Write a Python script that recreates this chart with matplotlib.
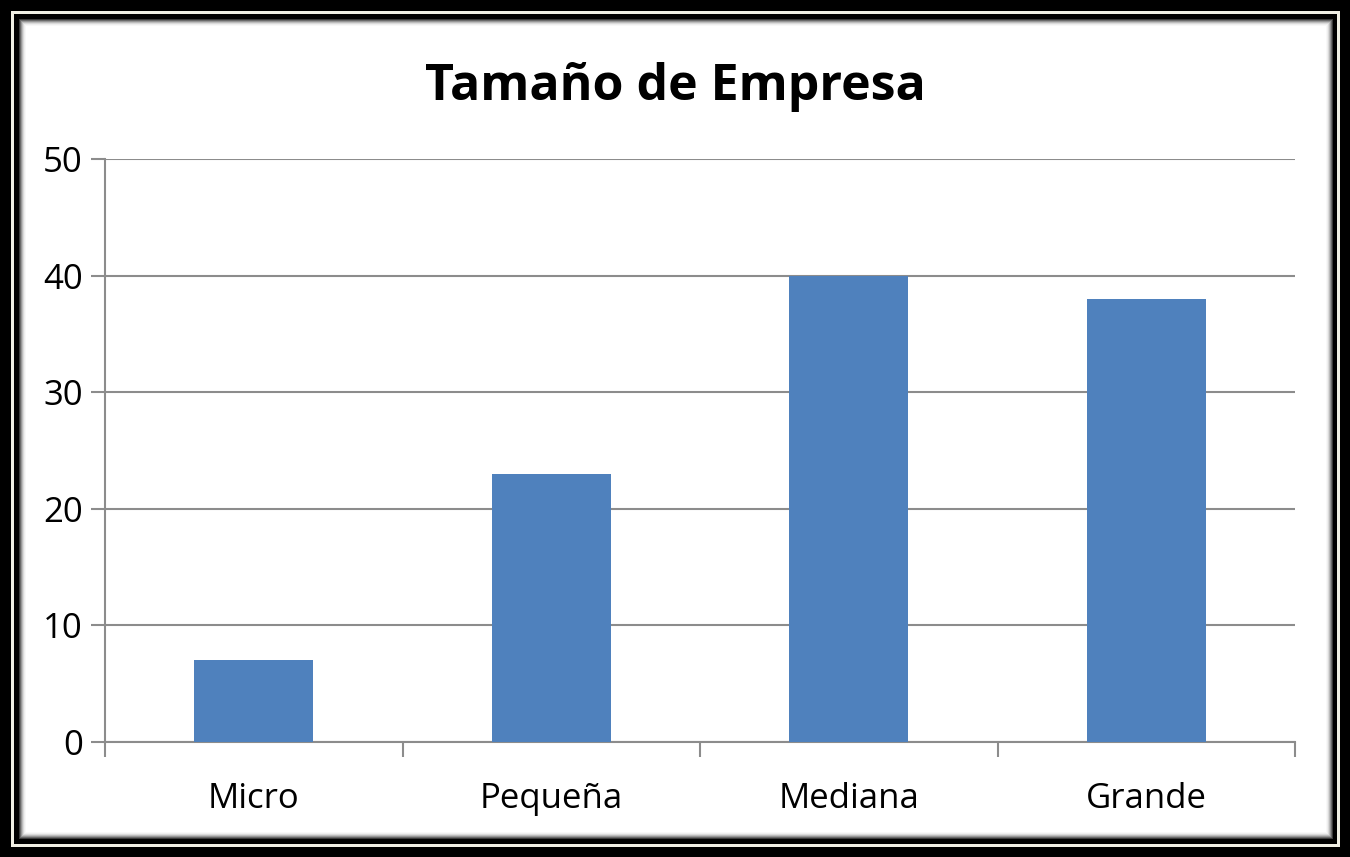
import matplotlib
matplotlib.use('Agg')
import matplotlib.pyplot as plt
from matplotlib.patches import Rectangle
import numpy as np

categorias = ['Micro', 'Pequeña', 'Mediana', 'Grande']
valores = [7, 23, 40, 38]
yticks = [0, 10, 20, 30, 40, 50]

W, H = 1350, 857
fig = plt.figure(figsize=(W / 100, H / 100), dpi=100, facecolor='black')


def px_rect(x0, y0, x1, y1, color, z=0):
    # rectangle in pixel coords (origin top-left)
    fig.patches.append(Rectangle((x0 / W, 1 - y1 / H), (x1 - x0) / W, (y1 - y0) / H,
                                 transform=fig.transFigure, facecolor=color,
                                 edgecolor='none', zorder=z))


# frame: cream line, black band, soft gray shadow into white
px_rect(11, 11, 1340, 847, '#f0efe4', 0)
px_rect(14, 14, 1337, 844, 'black', 1)
shades = ['#3a3a3a', '#6a6a6a', '#969696', '#bcbcbc', '#dadada', '#eeeeee', '#f8f8f8', 'white']
for i, c in enumerate(shades):
    px_rect(19 + i, 19 + i, 1333 - i, 839 - i, c, 2 + i)

ax = fig.add_axes([105 / W, 1 - 742 / H, (1295 - 105) / W, (742 - 159) / H])
ax.set_facecolor('none')
ax.set_zorder(20)

x = np.arange(len(categorias))
ax.bar(x, valores, width=0.4, color='#4f81bd', zorder=3)
ax.set_xlim(-0.5, len(categorias) - 0.5)
ax.set_ylim(0, 50)
ax.set_yticks(yticks)
ax.yaxis.grid(True, color='#8c8c8c', linewidth=1.5, zorder=0)

ax.set_xticks(x)
ax.set_xticklabels(categorias, fontsize=25, family='Open Sans')
ax.set_xticks(np.arange(-0.5, len(categorias)), minor=True)
ax.tick_params(axis='x', which='major', length=0, pad=29)
ax.tick_params(axis='x', which='minor', length=11, width=1.5, color='#8c8c8c')
ax.tick_params(axis='y', length=10, width=1.5, color='#8c8c8c', pad=6)
ax.set_yticklabels([str(v) for v in yticks], fontsize=25, family='Open Sans')

for s in ['top', 'right']:
    ax.spines[s].set_visible(False)
for s in ['left', 'bottom']:
    ax.spines[s].set_color('#8c8c8c')
    ax.spines[s].set_linewidth(1.5)

fig.text(675 / W, 1 - 87 / H, 'Tamaño de Empresa', ha='center', va='center',
         fontsize=36, fontweight='bold', family='Open Sans', zorder=30)

fig.savefig('out.png', dpi=100, facecolor='black')
